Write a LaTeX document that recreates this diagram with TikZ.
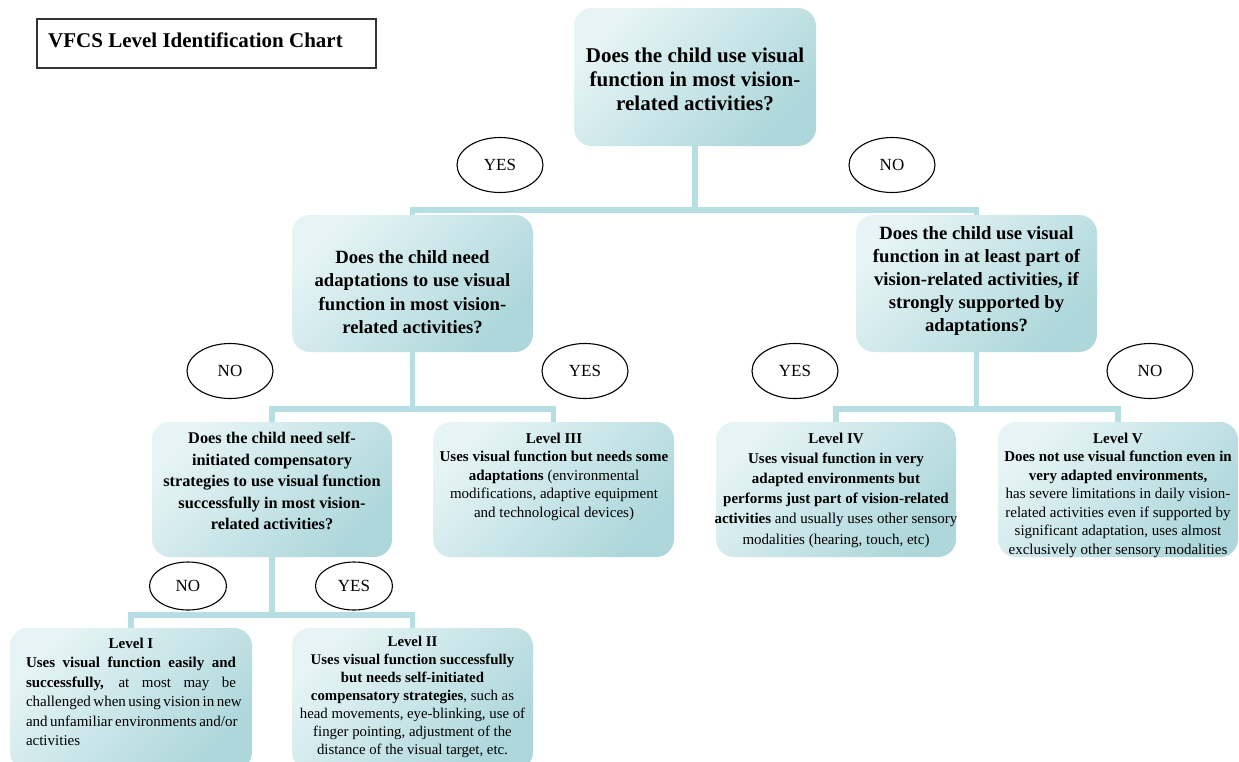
\documentclass[tikz,border=0pt]{standalone}
\usepackage{fontspec}
\setmainfont{Liberation Serif}
\usetikzlibrary{shapes.geometric}

\definecolor{boxlight}{HTML}{E6F4F5}
\definecolor{boxdark}{HTML}{ADD7DB}
\definecolor{linkcol}{HTML}{B7DEE2}
\definecolor{framegray}{HTML}{333333}

\begin{document}
\begin{tikzpicture}[x=1pt,y=-1pt,
  panel/.style={rectangle, draw=none, rounded corners=18pt, inner sep=0pt,
    top color=boxlight, bottom color=boxdark, shading angle=45},
  conn/.style={draw=linkcol, line width=5.5pt},
  tag/.style={ellipse, draw=black, line width=1.1pt, inner sep=0pt,
    font=\fontsize{17}{20}\selectfont},
  bigtag/.style={tag, minimum width=86pt, minimum height=55pt},
  smalltag/.style={tag, minimum width=77pt, minimum height=48pt},
  qtext/.style={align=center, inner sep=0pt},
  ltext/.style={align=center, inner sep=0pt, anchor=north}
]
\fill[white] (0,0) rectangle (1239,761);
\useasboundingbox (0,0) rectangle (1239,761);
\clip (0,0) rectangle (1239,761);

% chart title
\node[draw=framegray, line width=1.5pt, minimum width=339pt, minimum height=49pt, inner sep=0pt] (title) at (206.5,43.5) {};
\node[anchor=west, inner sep=0pt, font=\fontsize{21}{24}\selectfont\bfseries] (titletext) at (48,40) {VFCS Level Identification Chart};

% question boxes
\node[panel, minimum width=242pt, minimum height=138pt] (q1) at (695,77) {};
\node[panel, minimum width=241pt, minimum height=137pt] (q2) at (412.5,283.5) {};
\node[panel, minimum width=241pt, minimum height=137pt] (q3) at (976.5,283.5) {};
\node[panel, minimum width=240pt, minimum height=135pt] (q4) at (272,489.5) {};

% level boxes
\node[panel, minimum width=241pt, minimum height=135pt] (l3) at (553.5,489.5) {};
\node[panel, minimum width=240pt, minimum height=135pt] (l4) at (836,489.5) {};
\node[panel, minimum width=240pt, minimum height=135pt] (l5) at (1118,489.5) {};
\node[panel, minimum width=242pt, minimum height=142pt] (l1) at (131,699) {};
\node[panel, minimum width=241pt, minimum height=142pt] (l2) at (412.5,699) {};

% question texts
\node[qtext, font=\fontsize{21}{24}\selectfont\bfseries] (q1t) at (695,79)
  {Does the child use visual\\function in most vision-\\related activities?};
\node[qtext, font=\fontsize{18.7}{23.5}\selectfont\bfseries] (q2t) at (412.5,292)
  {Does the child need\\adaptations to use visual\\function in most vision-\\related activities?};
\node[qtext, font=\fontsize{18.7}{23}\selectfont\bfseries] (q3t) at (976.5,280.5)
  {Does the child use visual\\function in at least part of\\vision-related activities, if\\strongly supported by\\adaptations?};
\node[qtext, font=\fontsize{16.3}{21.5}\selectfont\bfseries] (q4t) at (272,481)
  {Does the child need self-\\initiated compensatory\\strategies to use visual function\\successfully in most vision-\\related activities?};

% level texts
\node[ltext, font=\fontsize{15}{18.5}\selectfont] (l3t) at (554,432.5)
  {\textbf{Level III}\\\textbf{Uses visual function but needs some}\\\textbf{adaptations} (environmental\\modifications, adaptive equipment\\and technological devices)};
\node[ltext, font=\fontsize{15}{20.2}\selectfont] (l4t) at (836,432.5)
  {\textbf{Level IV}\\\textbf{Uses visual function in very}\\\textbf{adapted environments but}\\\textbf{performs just part of vision-related}\\\textbf{activities} and usually uses other sensory\\modalities (hearing, touch, etc)};
\node[ltext, font=\fontsize{15}{18.5}\selectfont] (l5t) at (1118,432.5)
  {\textbf{Level V}\\\textbf{Does not use visual function even in}\\\textbf{very adapted environments,}\\has severe limitations in daily vision-\\related activities even if supported by\\significant adaptation, uses almost\\exclusively other sensory modalities};
\node[ltext, align=left, font=\fontsize{15}{19.5}\selectfont] (l1t) at (131,637.5)
  {\makebox[210pt][c]{\textbf{Level I}}\\
   \makebox[210pt][s]{\textbf{Uses visual function easily and}}\\
   \makebox[210pt][s]{\textbf{successfully,} at most may be}\\
   \makebox[210pt][s]{challenged when using vision in new}\\
   \makebox[210pt][s]{and unfamiliar environments and/or}\\
   activities};
\node[ltext, font=\fontsize{14.8}{17.9}\selectfont] (l2t) at (412.5,636.5)
  {\textbf{Level II}\\\textbf{Uses visual function successfully}\\\textbf{but needs self-initiated}\\\textbf{compensatory strategies}, such as\\head movements, eye-blinking, use of\\finger pointing, adjustment of the\\distance of the visual target, etc.};

% answer tags
\node[bigtag] (y1) at (500,165) {YES};
\node[bigtag] (n1) at (892,165) {NO};
\node[bigtag] (n2) at (230,371) {NO};
\node[bigtag] (y2) at (585,371) {YES};
\node[bigtag] (y3) at (795,371) {YES};
\node[bigtag] (n3) at (1150,371) {NO};
\node[smalltag] (n4) at (188,586) {NO};
\node[smalltag] (y4) at (354,586) {YES};

% connectors
\coordinate (j1) at (695,210);
\coordinate (j2) at (412.5,409);
\coordinate (j3) at (976.5,409);
\coordinate (j4) at (272,615);
\draw[conn] (q1.south) -- (j1);
\draw[conn] (q2.north) |- (j1) -| (q3.north);
\draw[conn] (q2.south) -- (j2);
\draw[conn] (q4.north) |- (j2) -| (l3.north);
\draw[conn] (q3.south) -- (j3);
\draw[conn] (l4.north) |- (j3) -| (l5.north);
\draw[conn] (q4.south) -- (j4);
\draw[conn] (l1.north) |- (j4) -| (l2.north);
\end{tikzpicture}
\end{document}
